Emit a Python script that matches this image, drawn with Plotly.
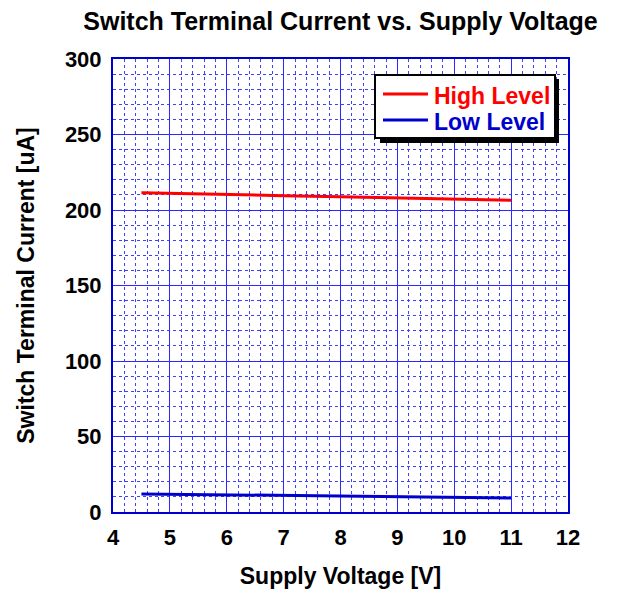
import plotly.graph_objects as go

voltage = [4.5, 5, 6, 7, 8, 9, 10, 11]
high_level = [211.5, 211.0, 210.3, 209.5, 208.7, 208.0, 207.2, 206.5]
low_level = [12.0, 11.8, 11.3, 10.8, 10.4, 10.0, 9.6, 9.3]

x_ticks = [4, 5, 6, 7, 8, 9, 10, 11, 12]
y_ticks = [0, 50, 100, 150, 200, 250, 300]
series_names = ["High Level", "Low Level"]
series_colors = ["#ff0000", "#0000cc"]

FONT = "Liberation Sans, Arial, sans-serif"

# page offset (body margin) compensation
OFF = 8
PL, PR, PT, PB = 113, 568, 59, 512  # plot area in screenshot pixels
W, H = 618, 593


def px(x):
    return (x - PL) / (PR - PL)


def py(y):
    return (PB - y) / (PB - PT)


fig = go.Figure()
for name, ys, col in zip(series_names, [high_level, low_level], series_colors):
    fig.add_trace(go.Scatter(x=voltage, y=ys, mode="lines",
                             line=dict(color=col, width=3), name=name,
                             showlegend=False))

axis_common = dict(
    showline=True, mirror=True, linecolor="#0000cc", linewidth=2,
    showgrid=True, gridcolor="#2a2aff", gridwidth=1,
    ticks="", zeroline=False, ticklabelstandoff=5,
    tickfont=dict(family=FONT, size=22, color="black", weight="bold"),
)

fig.update_xaxes(range=[4, 12], tickvals=x_ticks, ticktext=[str(v) for v in x_ticks],
                 minor=dict(dtick=0.2, showgrid=True, gridcolor="#4040ff", griddash="dot", gridwidth=1),
                 title=dict(text="<b>Supply Voltage [V]</b>", font=dict(family=FONT, size=23, color="black"), standoff=18),
                 **axis_common)
fig.update_yaxes(range=[0, 300], tickvals=y_ticks, ticktext=[str(v) for v in y_ticks],
                 minor=dict(dtick=10, showgrid=True, gridcolor="#4040ff", griddash="dot", gridwidth=1),
                 title=dict(text="<b>Switch Terminal Current [uA]</b>", font=dict(family=FONT, size=23, color="black"), standoff=24),
                 **axis_common)

# manual legend: shadow, box, samples, labels
fig.add_shape(type="rect", xref="paper", yref="paper",
              x0=px(380), x1=px(559), y0=py(143), y1=py(79),
              fillcolor="black", line=dict(width=0), layer="above")
fig.add_shape(type="rect", xref="paper", yref="paper",
              x0=px(375), x1=px(555), y0=py(138), y1=py(75),
              fillcolor="white", line=dict(color="black", width=2), layer="above")
for i, (name, col) in enumerate(zip(series_names, series_colors)):
    yc = [94, 120][i]
    fig.add_shape(type="line", xref="paper", yref="paper",
                  x0=px(383), x1=px(428), y0=py(yc), y1=py(yc),
                  line=dict(color=col, width=3), layer="above")
    fig.add_annotation(xref="paper", yref="paper", x=px(432), y=py(yc + 2),
                       xanchor="left", yanchor="middle", showarrow=False,
                       text=f"<b>{name}</b>",
                       font=dict(family=FONT, size=23, color=col))

fig.update_layout(
    width=W, height=H,
    margin=dict(l=PL - OFF, r=W + OFF - PR, t=PT - OFF, b=H + OFF - PB),
    paper_bgcolor="white", plot_bgcolor="white",
    title=dict(text="<b>Switch Terminal Current vs. Supply Voltage</b>",
               font=dict(family=FONT, size=25, color="black"),
               x=0.5, xref="paper", y=1 - (21 - OFF) / H, yanchor="middle"),
    showlegend=False,
    font=dict(family=FONT),
)

fig.write_html("out.html")
